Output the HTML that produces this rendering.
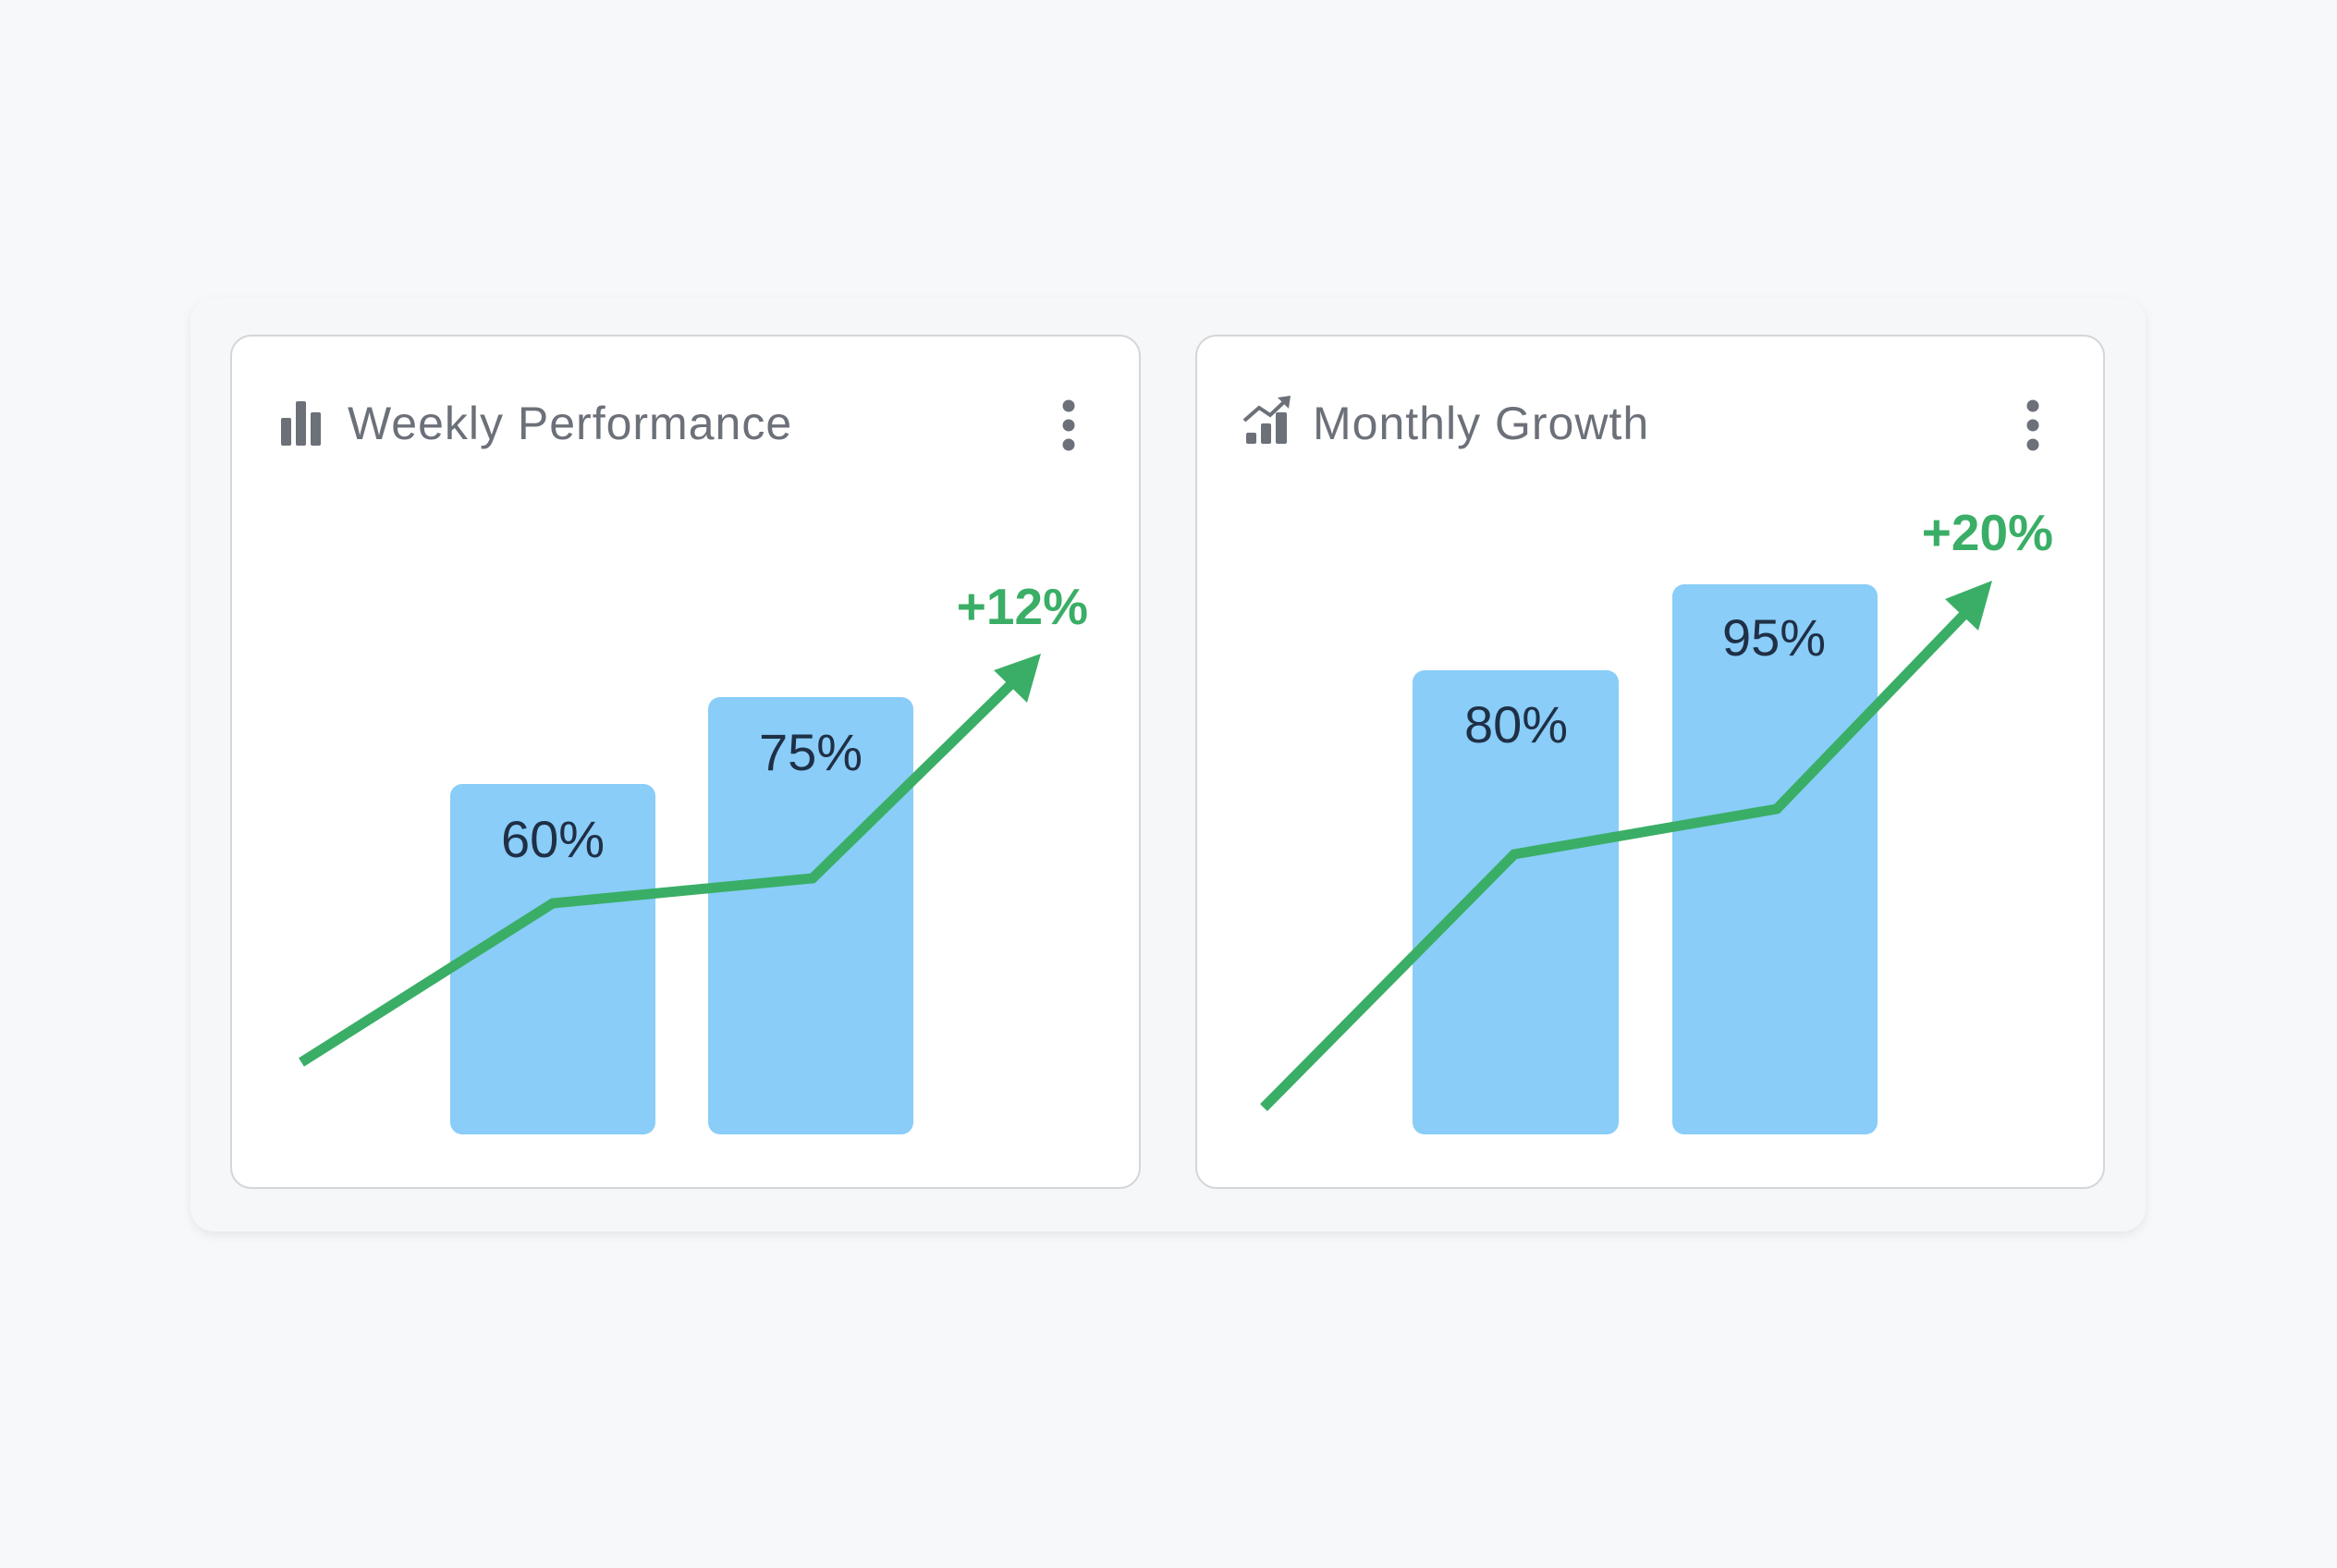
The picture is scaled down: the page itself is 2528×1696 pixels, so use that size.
<!DOCTYPE html>
<html><head><meta charset="utf-8"><style>
html,body{margin:0;padding:0;background:#f7f8f9;}
body{width:2528px;height:1696px;position:relative;overflow:hidden;font-family:"Liberation Sans",sans-serif;}
</style></head><body>
<svg width="2528" height="1696" viewBox="0 0 2528 1696" xmlns="http://www.w3.org/2000/svg" style="position:absolute;left:0;top:0">
<defs><filter id="sh" x="-5%" y="-5%" width="110%" height="115%"><feDropShadow dx="0" dy="4" stdDeviation="5" flood-color="#000" flood-opacity="0.07"/></filter></defs>
<rect x="206" y="322" width="2115" height="1010" rx="26" fill="#f6f7f8" filter="url(#sh)"/>
<rect x="250" y="363" width="983" height="922" rx="22" fill="#fff" stroke="#d4d6d9" stroke-width="2"/>
<rect x="1294" y="363" width="982" height="922" rx="22" fill="#fff" stroke="#d4d6d9" stroke-width="2"/>
<!-- left card -->
<g fill="#6b7079"><rect x="304" y="452" width="11" height="30" rx="2"/><rect x="320" y="434" width="11" height="48" rx="2"/><rect x="336" y="446" width="11" height="36" rx="2"/></g>
<text x="376" y="475" font-size="50" letter-spacing="1" fill="#6b7079">Weekly Performance</text>
<g fill="#6b7079"><circle cx="1156" cy="439" r="6.5"/><circle cx="1156" cy="460" r="6.5"/><circle cx="1156" cy="481" r="6.5"/></g>
<rect x="487" y="848" width="222" height="379" rx="13" fill="#89cdf8"/>
<rect x="766" y="754" width="222" height="473" rx="13" fill="#89cdf8"/>
<text x="598" y="927" font-size="56" fill="#1f2f45" text-anchor="middle">60%</text>
<text x="877" y="833" font-size="56" fill="#1f2f45" text-anchor="middle">75%</text>
<polyline points="326,1149 598,977 879,950 1104,730" fill="none" stroke="#3aae66" stroke-width="11" stroke-linejoin="miter"/>
<polygon points="1126,707 1075,725 1111,760" fill="#3aae66"/>
<text x="1177" y="675" font-size="55" font-weight="bold" fill="#3aae66" text-anchor="end">+12%</text>
<!-- right card -->
<g fill="#6b7079"><rect x="1348" y="468" width="11" height="12" rx="2"/><rect x="1364" y="458" width="11" height="22" rx="2"/><rect x="1380" y="446" width="12" height="34" rx="2"/></g>
<polyline points="1346,455 1362,441 1374,449 1392,432" fill="none" stroke="#6b7079" stroke-width="4"/>
<polygon points="1396,428 1382,430 1394,442" fill="#6b7079"/>
<text x="1420" y="475" font-size="50" letter-spacing="1" fill="#6b7079">Monthly Growth</text>
<g fill="#6b7079"><circle cx="2199" cy="439" r="6.5"/><circle cx="2199" cy="460" r="6.5"/><circle cx="2199" cy="481" r="6.5"/></g>
<rect x="1528" y="725" width="223" height="502" rx="13" fill="#89cdf8"/>
<rect x="1809" y="632" width="222" height="595" rx="13" fill="#89cdf8"/>
<text x="1640" y="803" font-size="56" fill="#1f2f45" text-anchor="middle">80%</text>
<text x="1919" y="709" font-size="56" fill="#1f2f45" text-anchor="middle">95%</text>
<polyline points="1367,1198 1638,924 1922,875 2133,656" fill="none" stroke="#3aae66" stroke-width="11" stroke-linejoin="miter"/>
<polygon points="2155,628 2104,648 2140,682" fill="#3aae66"/>
<text x="2221" y="595" font-size="55" font-weight="bold" fill="#3aae66" text-anchor="end">+20%</text>
</svg>
</body></html>
